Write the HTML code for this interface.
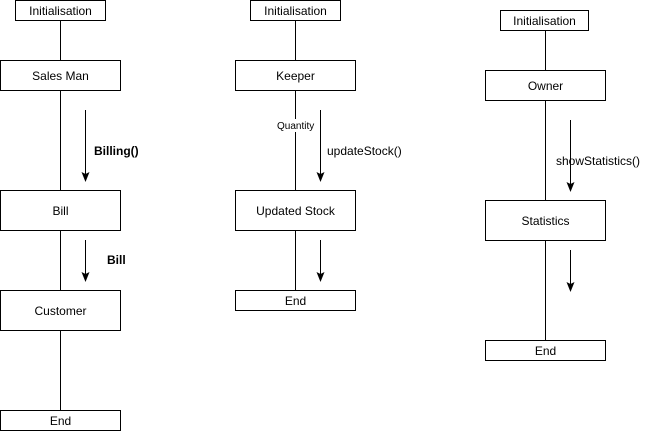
<!DOCTYPE html>
<html><head><meta charset="utf-8"><style>
html,body{margin:0;padding:0;background:#fff;}
svg{display:block;}
text{font-family:"Liberation Sans",Arial,sans-serif;font-size:12px;fill:#000;}
</style></head><body>
<svg width="645" height="431" viewBox="0 0 645 431" xmlns="http://www.w3.org/2000/svg">
<g stroke="#000" stroke-width="1" fill="#fff">
<!-- column 1 -->
<line x1="60.5" y1="20" x2="60.5" y2="410"/>
<rect x="15.5" y="0.5" width="90" height="20"/>
<rect x="0.5" y="60.5" width="120" height="30"/>
<rect x="0.5" y="190.5" width="120" height="40"/>
<rect x="0.5" y="290.5" width="120" height="40"/>
<rect x="0.5" y="410.5" width="120" height="20"/>
<line x1="85.5" y1="110" x2="85.5" y2="176"/>
<line x1="85.5" y1="240" x2="85.5" y2="276"/>
<!-- column 2 -->
<line x1="295.5" y1="20" x2="295.5" y2="290"/>
<rect x="250.5" y="0.5" width="90" height="20"/>
<rect x="235.5" y="60.5" width="120" height="30"/>
<rect x="235.5" y="190.5" width="120" height="40"/>
<rect x="235.5" y="290.5" width="120" height="20"/>
<line x1="320.5" y1="110" x2="320.5" y2="176"/>
<line x1="320.5" y1="240" x2="320.5" y2="276"/>
<!-- column 3 -->
<line x1="545.5" y1="30" x2="545.5" y2="340"/>
<rect x="500.5" y="10.5" width="88" height="20"/>
<rect x="485.5" y="70.5" width="120" height="30"/>
<rect x="485.5" y="200.5" width="120" height="40"/>
<rect x="485.5" y="340.5" width="120" height="20"/>
<line x1="570.5" y1="120" x2="570.5" y2="186"/>
<line x1="570.5" y1="250" x2="570.5" y2="286"/>
</g>
<g fill="#000">
<polygon points="81.5,172 85.5,174 89.5,172 85.5,182"/>
<polygon points="81.5,272 85.5,274 89.5,272 85.5,282"/>
<polygon points="316.5,172 320.5,174 324.5,172 320.5,182"/>
<polygon points="316.5,272 320.5,274 324.5,272 320.5,282"/>
<polygon points="566.5,182 570.5,184 574.5,182 570.5,192"/>
<polygon points="566.5,282 570.5,284 574.5,282 570.5,292"/>
</g>
<rect x="277" y="119" width="39" height="13" fill="#fff"/>
<rect x="556" y="153" width="88" height="15" fill="#fff"/>
<g text-anchor="middle">
<text x="60.5" y="15">Initialisation</text>
<text x="60.5" y="80">Sales Man</text>
<text x="60.5" y="215">Bill</text>
<text x="60.5" y="315">Customer</text>
<text x="60.5" y="425">End</text>
<text x="295.5" y="15">Initialisation</text>
<text x="295.5" y="80">Keeper</text>
<text x="295.5" y="215">Updated Stock</text>
<text x="295.5" y="305">End</text>
<text x="544.5" y="25">Initialisation</text>
<text x="545.5" y="90">Owner</text>
<text x="545.5" y="225">Statistics</text>
<text x="545.5" y="355">End</text>
</g>
<text x="94" y="155" font-weight="bold">Billing()</text>
<text x="107" y="264" font-weight="bold">Bill</text>
<text x="277" y="129" style="font-size:10px">Quantity</text>
<text x="327" y="155">updateStock()</text>
<text x="556" y="165">showStatistics()</text>
<line x1="570.5" y1="120" x2="570.5" y2="186" stroke="#000"/>
</svg>
</body></html>
